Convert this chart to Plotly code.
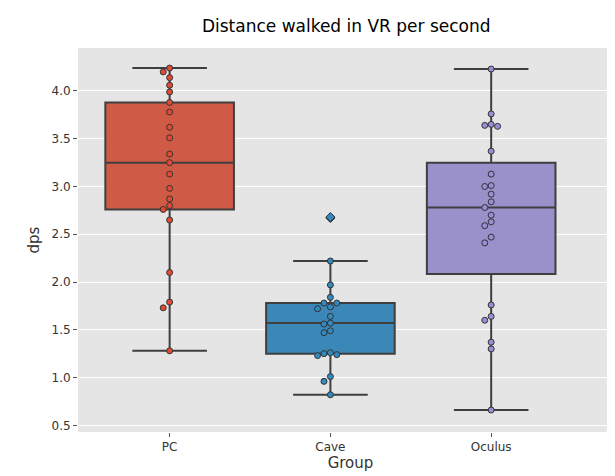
import numpy as np
import plotly.graph_objects as go

groups = ["PC", "Cave", "Oculus"]
pc = [4.24, 4.20, 4.14, 4.06, 3.99, 3.88, 3.78, 3.62, 3.51, 3.34, 3.25, 3.13,
      2.98, 2.87, 2.80, 2.76, 2.65, 2.10, 1.79, 1.73, 1.28]
cave = [2.67, 2.68, 2.22, 1.97, 1.84, 1.78, 1.78, 1.74, 1.72, 1.64, 1.57, 1.56,
        1.49, 1.47, 1.26, 1.25, 1.24, 1.23, 1.01, 0.96, 0.82]
oculus = [4.23, 3.76, 3.65, 3.64, 3.63, 3.37, 3.13, 3.01, 3.00, 2.92, 2.84, 2.78,
          2.70, 2.63, 2.59, 2.47, 2.41, 1.76, 1.64, 1.60, 1.37, 1.30, 0.66]
box_colors = ["#CF5B46", "#3A87B8", "#9A91CB"]
point_colors = ["#E24A33", "#348ABD", "#988ED5"]
line_col = "#3f3f3f"

px_per_x = 160.0   # pixels per category
px_per_y = 96.9    # pixels per dps unit
diam = 7.5


def swarm(vals):
    # simple beeswarm: offset points sideways when they would overlap
    placed = []
    offs = []
    for v in vals:
        for k in [0, -1, 1, -2, 2, -3, 3]:
            ox = k * diam * 0.85
            ok = all((ox - px) ** 2 + ((v - pv) * px_per_y) ** 2 >= diam ** 2 * 0.7
                     for px, pv in placed)
            if ok:
                break
        placed.append((ox, v))
        offs.append(ox / px_per_x)
    return offs


fig = go.Figure()
for i, (name, vals) in enumerate(zip(groups, [pc, cave, oculus])):
    a = np.array(vals)
    q1, med, q3 = np.percentile(a, [25, 50, 75])
    iqr = q3 - q1
    lo = a[a >= q1 - 1.5 * iqr].min()
    hi = a[a <= q3 + 1.5 * iqr].max()
    fig.add_trace(go.Box(
        x=[i], q1=[q1], median=[med], q3=[q3], lowerfence=[lo], upperfence=[hi],
        width=0.8, whiskerwidth=0.58, fillcolor=box_colors[i],
        line=dict(color=line_col, width=2), boxpoints=False, showlegend=False,
        hoverinfo="skip"))
    inside = [v for v in vals if lo <= v <= hi]
    outs = [v for v in vals if v < lo or v > hi]
    offs = swarm(inside)
    fig.add_trace(go.Scatter(
        x=[i + o for o in offs], y=inside, mode="markers", showlegend=False,
        marker=dict(size=6, color=point_colors[i], line=dict(color="#333333", width=1))))
    if outs:
        fig.add_trace(go.Scatter(
            x=[i] * len(outs), y=outs, mode="markers", showlegend=False,
            marker=dict(size=7, symbol="diamond", color=point_colors[i],
                        line=dict(color="#333333", width=1))))

fig.update_layout(
    width=615, height=476,
    margin=dict(l=70, r=0, t=40, b=46),
    paper_bgcolor="white", plot_bgcolor="#E5E5E5",
    font=dict(family="DejaVu Sans", color="#333333", size=12),
    title=dict(text="Distance walked in VR per second", x=0.55, xanchor="center",
               y=0.975, yanchor="top", font=dict(size=17, color="black")),
)
fig.update_xaxes(range=[-0.57, 2.82], tickvals=[0, 1, 2], ticktext=groups,
                 showgrid=False, zeroline=False, ticks="outside", ticklen=4,
                 tickcolor="#555555",
                 title=dict(text="Group", font=dict(size=15), standoff=4))
fig.update_yaxes(range=[0.43, 4.45], tickvals=[0.5, 1, 1.5, 2, 2.5, 3, 3.5, 4],
                 ticktext=["0.5", "1.0", "1.5", "2.0", "2.5", "3.0", "3.5", "4.0"],
                 gridcolor="white", gridwidth=1, zeroline=False, ticks="outside",
                 ticklen=4, tickcolor="#555555",
                 title=dict(text="dps", font=dict(size=15), standoff=8))

fig.update_layout(margin=dict(b=52))
fig.write_html("out.html")
